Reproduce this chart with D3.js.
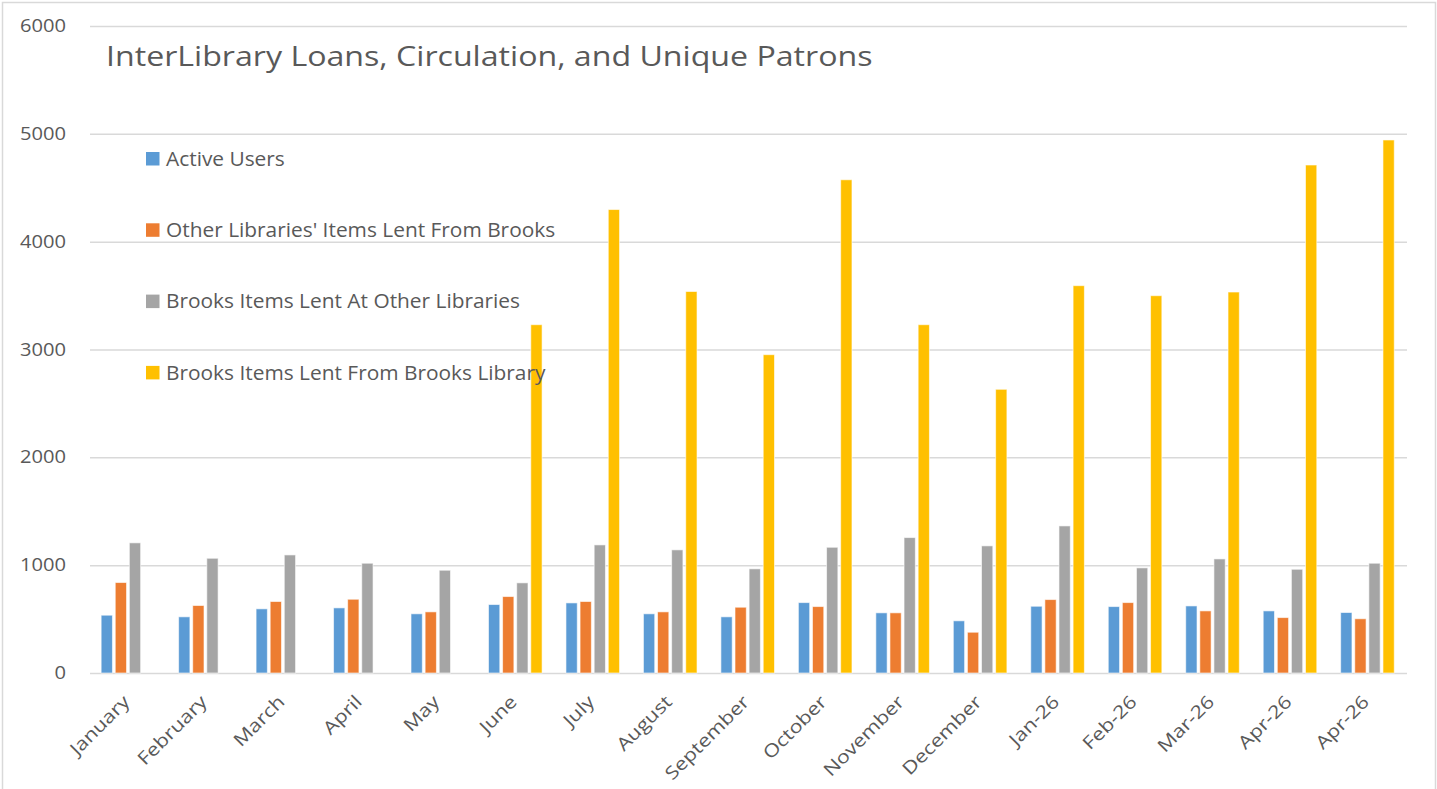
<!DOCTYPE html>
<html>
<head>
<meta charset="utf-8">
<script src="https://cdn.jsdelivr.net/npm/d3@7"></script>
<style>
  html, body { margin: 0; padding: 0; background: #fff; }
  svg { display: block; }
  text { font-family: "Open Sans", "Noto Sans", sans-serif; fill: #595959; }
</style>
</head>
<body>
<svg id="chart" width="1437" height="789"></svg>
<script>
// Monthly figures
const categories = ["January", "February", "March", "April", "May", "June", "July", "August",
  "September", "October", "November", "December", "Jan-26", "Feb-26", "Mar-26", "Apr-26", "Apr-26 "];

const activeUsers   = [536, 521, 595, 604, 549, 635, 650, 549, 521, 653, 558, 484, 619, 616, 622, 576, 561];
const otherLent     = [839, 626, 663, 684, 567, 709, 663, 567, 610, 616, 558, 378, 681, 653, 576, 514, 503];
const brooksAtOther = [1207, 1064, 1095, 1018, 953, 836, 1188, 1142, 966, 1166, 1256, 1179, 1364, 975, 1058, 962, 1018];
const brooksFromBrooks = [null, null, null, null, null, 3230, 4298, 3538, 2952, 4574, 3230, 2631, 3592, 3499, 3533, 4711, 4943];

const seriesNames = ["Active Users", "Other Libraries' Items Lent From Brooks",
  "Brooks Items Lent At Other Libraries", "Brooks Items Lent From Brooks Library"];
const seriesValues = [activeUsers, otherLent, brooksAtOther, brooksFromBrooks];
const seriesColors = ["#5B9BD5", "#ED7D31", "#A5A5A5", "#FFC000"];
const yTicks = [0, 1000, 2000, 3000, 4000, 5000, 6000];
const titleText = "InterLibrary Loans, Circulation, and Unique Patrons";

const svg = d3.select("#chart");
const W = 1437, H = 789;
const plot = { left: 90, right: 1407, top: 26, bottom: 673 };
const STRETCH = 1.19;

// widen glyphs horizontally so labels keep the wide proportions of the original typeface
function widen(sel, factor) {
  sel.each(function () {
    const len = this.getComputedTextLength();
    d3.select(this).attr("textLength", len * factor).attr("lengthAdjust", "spacingAndGlyphs");
  });
}

// chart area border
svg.append("rect")
  .attr("x", 2.5).attr("y", 2.5).attr("width", W - 4).attr("height", H + 20)
  .attr("fill", "#fff").attr("stroke", "#d9d9d9").attr("stroke-width", 1.5);

const x0 = d3.scaleBand().domain(categories).range([plot.left, plot.right])
  .paddingInner(0.272).paddingOuter(0.136);
const x1 = d3.scaleBand().domain(d3.range(seriesNames.length)).range([0, x0.bandwidth()]);
const y = d3.scaleLinear().domain([0, 6000]).range([plot.bottom, plot.top]);

// gridlines and value labels
const yAxis = d3.axisLeft(y).tickValues(yTicks).tickFormat(d3.format("d"))
  .tickSize(-(plot.right - plot.left)).tickPadding(24);
const gy = svg.append("g").attr("transform", `translate(${plot.left},0)`).call(yAxis);
gy.select(".domain").remove();
gy.selectAll(".tick line").attr("stroke", "#d9d9d9").attr("stroke-width", 1.5);
gy.selectAll(".tick text").attr("font-size", 17.5).attr("fill", "#595959")
  .style("font-family", '"Open Sans", sans-serif').call(widen, 1.15);

// bars
const groups = svg.append("g").selectAll("g")
  .data(categories).join("g")
  .attr("transform", d => `translate(${x0(d)},0)`);

groups.selectAll("rect")
  .data((c, i) => seriesValues.map((vals, s) => ({ s, v: vals[i] })).filter(d => d.v != null))
  .join("rect")
  .attr("x", d => x1(d.s) + 0.6)
  .attr("width", x1.bandwidth() - 2.8)
  .attr("y", d => y(d.v))
  .attr("height", d => y(0) - y(d.v))
  .attr("fill", d => seriesColors[d.s])
  .attr("stroke", "#fff").attr("stroke-opacity", 0.6).attr("stroke-width", 1);

// category axis labels
const xAxis = d3.axisBottom(x0).tickSize(0).tickPadding(0);
const gx = svg.append("g").attr("transform", `translate(0,${plot.bottom})`).call(xAxis);
gx.select(".domain").remove();
gx.selectAll(".tick text")
  .attr("font-size", 18).attr("fill", "#595959")
  .style("font-family", '"Open Sans", sans-serif')
  .attr("text-anchor", "end")
  .attr("dy", null).attr("y", 0).attr("x", 0)
  .attr("transform", "translate(2,30) rotate(-45)")
  .call(widen, STRETCH);

// title
svg.append("text")
  .attr("x", 106).attr("y", 66)
  .attr("font-size", 27).attr("fill", "#595959")
  .text(titleText)
  .call(widen, STRETCH);

// legend
const legend = svg.append("g").attr("transform", "translate(146,159)");
const items = legend.selectAll("g").data(seriesNames).join("g")
  .attr("transform", (d, i) => `translate(0,${i * 71.3})`);
items.append("rect").attr("x", 0).attr("y", -7).attr("width", 13.5).attr("height", 13.5)
  .attr("fill", (d, i) => seriesColors[i]);
items.append("text").attr("x", 20).attr("y", 0).attr("dy", "0.35em")
  .attr("font-size", 19.5).attr("fill", "#595959")
  .text(d => d)
  .call(widen, 1.07);
</script>
</body>
</html>
